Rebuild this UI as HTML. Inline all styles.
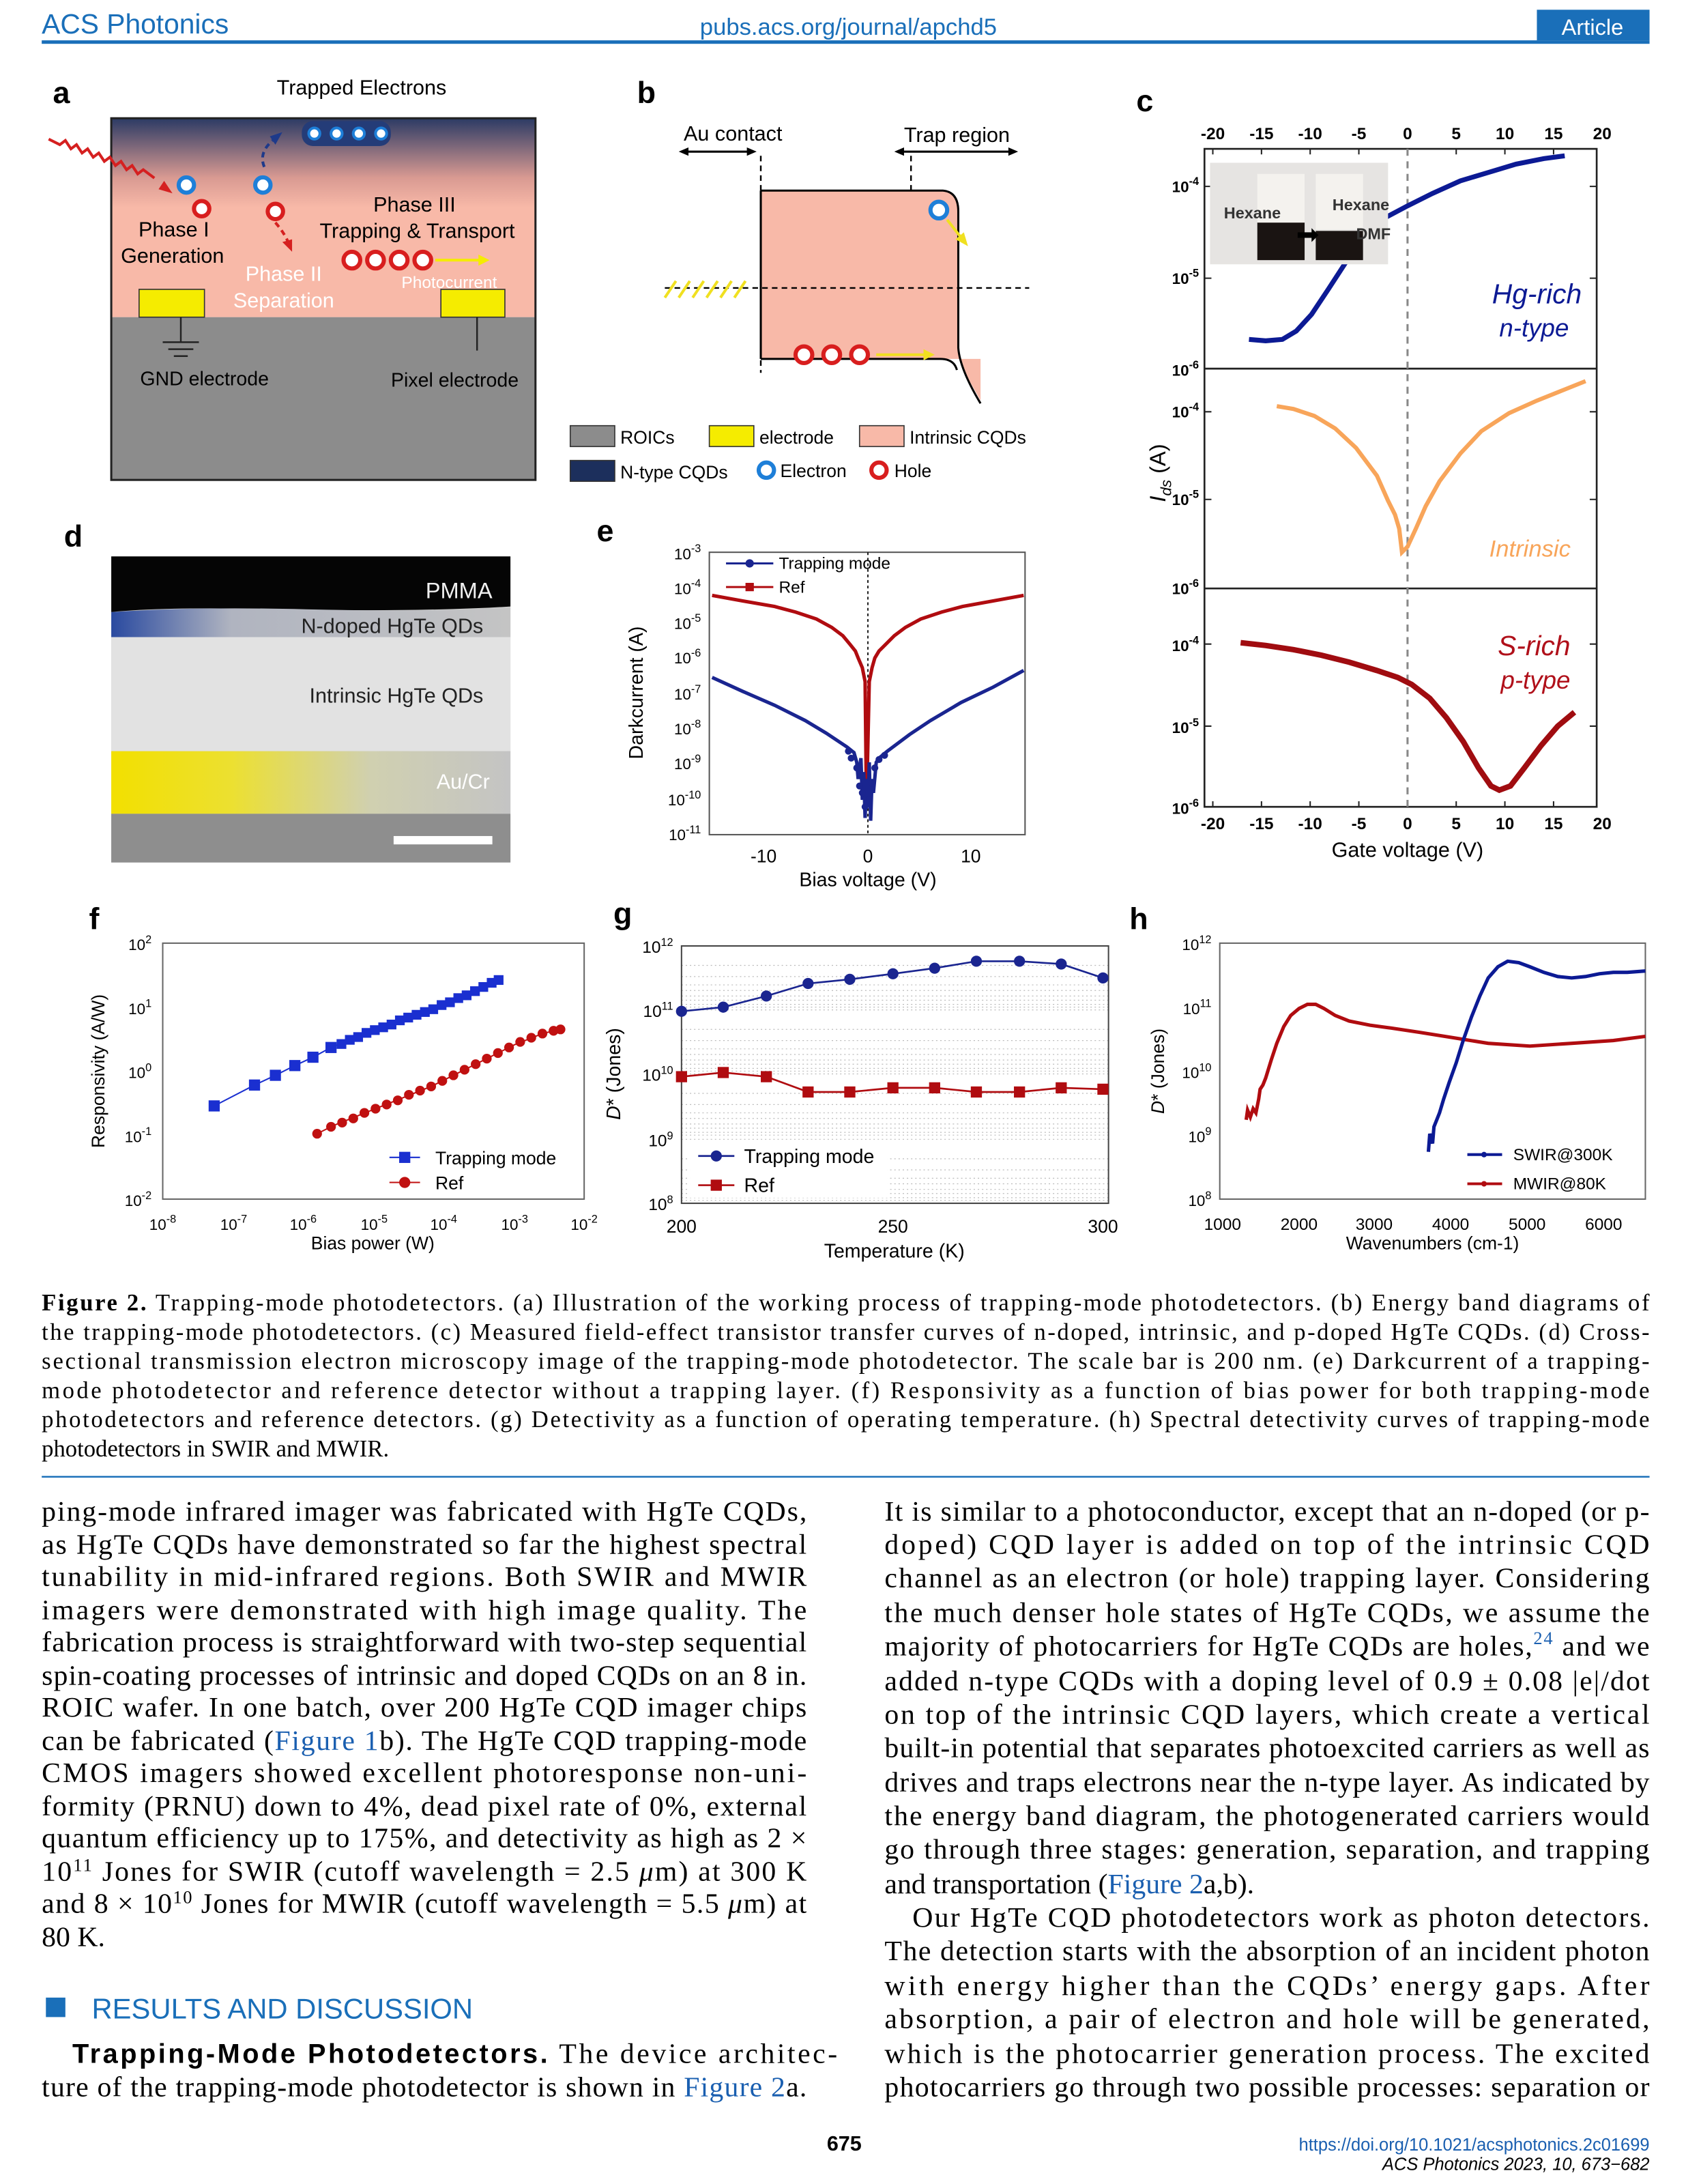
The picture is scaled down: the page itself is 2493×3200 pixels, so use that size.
<!DOCTYPE html>
<html><head><meta charset="utf-8"><style>
html,body{margin:0;padding:0;background:#fff;}
svg{display:block;}
.s{font-family:"Liberation Sans",Arial,sans-serif;}
.r{font-family:"Liberation Serif","DejaVu Serif",serif;}
</style></head><body>
<svg width="2493" height="3200" viewBox="0 0 1223 1570" preserveAspectRatio="none" xmlns="http://www.w3.org/2000/svg">
<defs>
<linearGradient id="ga" x1="0" y1="0" x2="0" y2="1">
<stop offset="0" stop-color="#2b3a64"/><stop offset="0.3" stop-color="#d99a92"/><stop offset="0.45" stop-color="#f8b9a8"/><stop offset="1" stop-color="#f8b9a8"/></linearGradient>
<linearGradient id="gy" x1="0" y1="0" x2="1" y2="0">
<stop offset="0" stop-color="#f2e000"/><stop offset="0.3" stop-color="#ece030"/><stop offset="0.65" stop-color="#d0d0b0"/><stop offset="1" stop-color="#c4c4c4"/></linearGradient>
<linearGradient id="gn" x1="0" y1="0" x2="1" y2="0">
<stop offset="0" stop-color="#2a4aa0"/><stop offset="0.3" stop-color="#b0b4c0"/><stop offset="1" stop-color="#c4c4c4"/></linearGradient>
</defs>
<rect width="1223" height="1570" fill="#fff"/>
<!-- header -->
<text x="30" y="24" class="s" font-size="20" fill="#1a6fb9">ACS Photonics</text>
<text x="610" y="25" class="s" font-size="17" fill="#1a6fb9" text-anchor="middle">pubs.acs.org/journal/apchd5</text>
<rect x="1105" y="7" width="81" height="22" fill="#1a6fb9"/>
<text x="1145" y="25" class="s" font-size="16" fill="#fff" text-anchor="middle">Article</text>
<rect x="30" y="29" width="1156" height="2.5" fill="#1a6fb9"/>

<g class="s">
<g font-weight="bold" font-size="22">
<text x="38" y="74">a</text><text x="458" y="74">b</text><text x="817" y="80">c</text>
<text x="46" y="393">d</text><text x="429" y="389">e</text><text x="64" y="668">f</text>
<text x="441" y="664">g</text><text x="812" y="668">h</text></g>

<!-- panel a -->
<rect x="80" y="85" width="305" height="143" fill="url(#ga)"/>
<rect x="80" y="228" width="305" height="117" fill="#8c8c8c"/>
<rect x="80" y="85" width="305" height="260" fill="none" stroke="#222" stroke-width="1.5"/>
<rect x="100" y="208" width="47" height="20" fill="#f5ec00" stroke="#333" stroke-width="0.8"/>
<rect x="317" y="208" width="46" height="20" fill="#f5ec00" stroke="#333" stroke-width="0.8"/>
<line x1="130" y1="228" x2="130" y2="246" stroke="#222" stroke-width="1.2"/>
<line x1="117" y1="246" x2="143" y2="246" stroke="#222" stroke-width="1.2"/>
<line x1="121" y1="251" x2="139" y2="251" stroke="#222" stroke-width="1.2"/>
<line x1="125" y1="256" x2="135" y2="256" stroke="#222" stroke-width="1.2"/>
<line x1="343" y1="228" x2="343" y2="252" stroke="#222" stroke-width="1.2"/>
<text x="260" y="68" font-size="15" text-anchor="middle">Trapped Electrons</text>
<rect x="217" y="87" width="64" height="18" rx="8" fill="#243c78"/>
<g fill="#fff" stroke="#1e7fd8" stroke-width="2"><circle cx="226" cy="96" r="4"/><circle cx="242" cy="96" r="4"/><circle cx="258" cy="96" r="4"/><circle cx="274" cy="96" r="4"/></g>
<path d="M35,100 l8,4 l4,-3 l4,6 l4,-3 l4,6 l4,-3 l4,6 l4,-3 l4,6 l4,-3 l4,6 l4,-3 l4,6 l4,-3 l4,6 l4,-3 l8,6" fill="none" stroke="#d52020" stroke-width="2"/>
<polygon points="124,139 114,136 118,130" fill="#d52020"/>
<path d="M190,120 Q185,108 200,98" fill="none" stroke="#1e3a8a" stroke-width="2" stroke-dasharray="4,3"/>
<polygon points="203,95 198,104 194,98" fill="#1e3a8a"/>
<path d="M198,160 Q205,168 208,176" fill="none" stroke="#d52020" stroke-width="2" stroke-dasharray="4,3"/>
<polygon points="210,181 203,174 210,172" fill="#d52020"/>
<g fill="#fff" stroke-width="3"><circle cx="134" cy="133" r="5.5" stroke="#1e7fd8"/><circle cx="145" cy="150" r="5.5" stroke="#d81e1e"/>
<circle cx="189" cy="133" r="5.5" stroke="#1e7fd8"/><circle cx="198" cy="152" r="5.5" stroke="#d81e1e"/>
<circle cx="253" cy="187" r="6" stroke="#d81e1e"/><circle cx="270" cy="187" r="6" stroke="#d81e1e"/><circle cx="287" cy="187" r="6" stroke="#d81e1e"/><circle cx="304" cy="187" r="6" stroke="#d81e1e"/></g>
<line x1="313" y1="187" x2="345" y2="187" stroke="#f5ec00" stroke-width="2"/><polygon points="352,187 344,183 344,191" fill="#f5ec00"/>
<text x="125" y="170" font-size="15" text-anchor="middle">Phase I</text>
<text x="124" y="189" font-size="15" text-anchor="middle">Generation</text>
<text x="298" y="152" font-size="15" text-anchor="middle">Phase III</text>
<text x="300" y="171" font-size="15" text-anchor="middle">Trapping &amp; Transport</text>
<text x="204" y="202" font-size="15" text-anchor="middle" fill="#fff">Phase II</text>
<text x="204" y="221" font-size="15" text-anchor="middle" fill="#fff">Separation</text>
<text x="323" y="207" font-size="12" text-anchor="middle" fill="#fff">Photocurrent</text>
<text x="147" y="277" font-size="14" text-anchor="middle">GND electrode</text>
<text x="327" y="278" font-size="14" text-anchor="middle">Pixel electrode</text>

<!-- panel b -->
<text x="527" y="101" font-size="15" text-anchor="middle">Au contact</text>
<text x="688" y="102" font-size="15" text-anchor="middle">Trap region</text>
<g stroke="#000" stroke-width="1.5"><line x1="492" y1="109" x2="540" y2="109"/><line x1="647" y1="109" x2="728" y2="109"/></g>
<g fill="#000"><polygon points="488,109 495,106 495,112"/><polygon points="544,109 537,106 537,112"/><polygon points="643,109 650,106 650,112"/><polygon points="732,109 725,106 725,112"/></g>
<path d="M547,137 H678 Q689,138 689,152 V250 Q689,262 696,272 L705,288 V258 H547 Z" fill="#f8b9a8"/>
<path d="M547,137 H678 Q689,138 689,152 V250 Q690,265 705,290" fill="none" stroke="#000" stroke-width="1.5"/>
<path d="M547,258 H676 Q686,258 688,266" fill="none" stroke="#000" stroke-width="1.5"/>
<line x1="547" y1="137" x2="547" y2="258" stroke="#000" stroke-width="1.5"/>
<g stroke="#000" stroke-width="1.2" stroke-dasharray="4,3" fill="none"><line x1="547" y1="112" x2="547" y2="268"/><line x1="655" y1="112" x2="655" y2="137"/><line x1="478" y1="207" x2="740" y2="207"/></g>
<g stroke="#f0e020" stroke-width="2"><line x1="478" y1="214" x2="486" y2="202"/><line x1="488" y1="214" x2="496" y2="202"/><line x1="498" y1="214" x2="506" y2="202"/><line x1="508" y1="214" x2="516" y2="202"/><line x1="518" y1="214" x2="526" y2="202"/><line x1="528" y1="214" x2="536" y2="202"/></g>
<circle cx="675" cy="151" r="6" fill="#fff" stroke="#1e7fd8" stroke-width="3"/>
<line x1="681" y1="158" x2="692" y2="172" stroke="#f0e020" stroke-width="2"/><polygon points="696,177 687,172 693,167" fill="#f0e020"/>
<g fill="#fff" stroke="#d81e1e" stroke-width="3"><circle cx="578" cy="255" r="6"/><circle cx="598" cy="255" r="6"/><circle cx="618" cy="255" r="6"/></g>
<line x1="630" y1="255" x2="664" y2="255" stroke="#f0e020" stroke-width="2"/><polygon points="672,255 664,251 664,259" fill="#f0e020"/>
<rect x="410" y="306" width="32" height="15" fill="#8c8c8c" stroke="#333" stroke-width="0.8"/><text x="446" y="319" font-size="13">ROICs</text>
<rect x="510" y="306" width="32" height="15" fill="#f5ec00" stroke="#333" stroke-width="0.8"/><text x="546" y="319" font-size="13">electrode</text>
<rect x="618" y="306" width="32" height="15" fill="#f8b9a8" stroke="#333" stroke-width="0.8"/><text x="654" y="319" font-size="13">Intrinsic CQDs</text>
<rect x="410" y="331" width="32" height="15" fill="#1c2f5c" stroke="#333" stroke-width="0.8"/><text x="446" y="344" font-size="13">N-type CQDs</text>
<circle cx="551" cy="338" r="5.5" fill="#fff" stroke="#1e7fd8" stroke-width="3"/><text x="561" y="343" font-size="13">Electron</text>
<circle cx="632" cy="338" r="5.5" fill="#fff" stroke="#d81e1e" stroke-width="3"/><text x="643" y="343" font-size="13">Hole</text>

<!-- panel c -->
<rect x="866" y="107" width="282" height="473" fill="none" stroke="#222" stroke-width="1.3"/>
<line x1="866" y1="265" x2="1148" y2="265" stroke="#222" stroke-width="1.3"/>
<line x1="866" y1="423" x2="1148" y2="423" stroke="#222" stroke-width="1.3"/>
<line x1="1012" y1="107" x2="1012" y2="580" stroke="#888" stroke-width="1.5" stroke-dasharray="5,4"/>
<g font-size="12" font-weight="bold" text-anchor="middle">
<text x="872" y="100">-20</text><text x="907" y="100">-15</text><text x="942" y="100">-10</text><text x="977" y="100">-5</text><text x="1012" y="100">0</text><text x="1047" y="100">5</text><text x="1082" y="100">10</text><text x="1117" y="100">15</text><text x="1152" y="100">20</text>
<text x="872" y="596">-20</text><text x="907" y="596">-15</text><text x="942" y="596">-10</text><text x="977" y="596">-5</text><text x="1012" y="596">0</text><text x="1047" y="596">5</text><text x="1082" y="596">10</text><text x="1117" y="596">15</text><text x="1152" y="596">20</text></g>
<g font-size="11" font-weight="bold" text-anchor="end">
<text x="862" y="138">10<tspan dy="-5" font-size="8">-4</tspan></text><text x="862" y="204">10<tspan dy="-5" font-size="8">-5</tspan></text><text x="862" y="270">10<tspan dy="-5" font-size="8">-6</tspan></text>
<text x="862" y="300">10<tspan dy="-5" font-size="8">-4</tspan></text><text x="862" y="363">10<tspan dy="-5" font-size="8">-5</tspan></text><text x="862" y="427">10<tspan dy="-5" font-size="8">-6</tspan></text>
<text x="862" y="468">10<tspan dy="-5" font-size="8">-4</tspan></text><text x="862" y="527">10<tspan dy="-5" font-size="8">-5</tspan></text><text x="862" y="585">10<tspan dy="-5" font-size="8">-6</tspan></text></g>
<g stroke="#222" stroke-width="1"><path d="M866,134h5M866,200h5M866,296h5M866,359h5M866,463h5M866,522h5M1148,134h-5M1148,200h-5M1148,296h-5M1148,359h-5M1148,463h-5M1148,522h-5"/>
<path d="M872,107v4M907,107v4M942,107v4M977,107v4M1047,107v4M1082,107v4M1117,107v4M872,580v-4M907,580v-4M942,580v-4M977,580v-4M1047,580v-4M1082,580v-4M1117,580v-4"/></g>
<text x="1012" y="616" font-size="15" text-anchor="middle">Gate voltage (V)</text>
<text transform="translate(838,340) rotate(-90)" font-size="16" text-anchor="middle"><tspan font-style="italic">I</tspan><tspan font-size="11" dy="4" font-style="italic">ds</tspan><tspan dy="-4"> (A)</tspan></text>
<polyline points="898,244 910,245 922,244 932,238 943,226 955,208 968,188 982,168 995,157 1012,148 1030,139 1050,130 1070,124 1090,118 1110,114 1125,112" fill="none" stroke="#0c1a94" stroke-width="3.5"/>
<rect x="870" y="117" width="128" height="73" fill="#e6e4e2"/>
<rect x="904" y="160" width="34" height="27" fill="#1a1412"/>
<rect x="946" y="166" width="34" height="21" fill="#1a1412"/>
<rect x="904" y="125" width="34" height="35" fill="#f4f2ee"/><rect x="946" y="125" width="34" height="40" fill="#f4f2ee"/>
<text x="880" y="157" font-size="11.5" font-weight="bold" fill="#333">Hexane</text>
<text x="958" y="151" font-size="11.5" font-weight="bold" fill="#333">Hexane</text>
<text x="975" y="172" font-size="11.5" font-weight="bold" fill="#333">DMF</text>
<polygon points="933,167 943,167 943,164 948,169 943,174 943,171 933,171" fill="#000"/>
<text x="1105" y="218" font-size="20" font-style="italic" fill="#0c1a94" text-anchor="middle">Hg-rich</text>
<text x="1103" y="242" font-size="18" font-style="italic" fill="#0c1a94" text-anchor="middle">n-type</text>
<polyline points="918,292 930,294 945,299 960,308 975,322 990,342 998,360 1003,370 1006,380 1008,397 1012,393 1018,380 1025,364 1035,346 1050,326 1065,310 1085,297 1105,288 1125,280 1140,274" fill="none" stroke="#f8a55a" stroke-width="3"/>
<text x="1100" y="400" font-size="17" font-style="italic" fill="#f8a55a" text-anchor="middle">Intrinsic</text>
<polyline points="892,462 910,464 930,467 950,471 970,476 990,482 1005,487 1015,492 1028,502 1040,516 1052,533 1063,552 1072,565 1078,568 1086,565 1096,552 1108,536 1120,522 1132,512" fill="none" stroke="#a00c10" stroke-width="4"/>
<text x="1103" y="471" font-size="20" font-style="italic" fill="#b0101a" text-anchor="middle">S-rich</text>
<text x="1104" y="495" font-size="18" font-style="italic" fill="#b0101a" text-anchor="middle">p-type</text>

<!-- panel d -->
<rect x="80" y="400" width="287" height="220" fill="#c9c9c9"/>
<path d="M80,400 H367 V436 Q300,440 200,438 Q120,436 80,440 Z" fill="#050505"/>
<path d="M80,440 Q140,436 220,438 Q300,440 367,437 V458 H80 Z" fill="url(#gn)"/>
<rect x="80" y="458" width="287" height="82" fill="#e2e2e2"/>
<rect x="80" y="540" width="287" height="45" fill="url(#gy)"/>
<rect x="80" y="585" width="287" height="35" fill="#8e8e8e"/>
<text x="330" y="430" font-size="16" fill="#f0f0f0" text-anchor="middle">PMMA</text>
<text x="282" y="455" font-size="15" fill="#222" text-anchor="middle">N-doped HgTe QDs</text>
<text x="285" y="505" font-size="15" fill="#222" text-anchor="middle">Intrinsic HgTe QDs</text>
<text x="333" y="567" font-size="15" fill="#fff" text-anchor="middle">Au/Cr</text>
<rect x="283" y="601" width="71" height="6" fill="#fff"/>

<!-- panel e -->
<rect x="510" y="397" width="227" height="203" fill="none" stroke="#555" stroke-width="1"/>
<line x1="624" y1="397" x2="624" y2="600" stroke="#222" stroke-width="1" stroke-dasharray="2,2"/>
<g font-size="11" text-anchor="end">
<text x="504" y="402">10<tspan dy="-5" font-size="8">-3</tspan></text><text x="504" y="427">10<tspan dy="-5" font-size="8">-4</tspan></text><text x="504" y="452">10<tspan dy="-5" font-size="8">-5</tspan></text><text x="504" y="477">10<tspan dy="-5" font-size="8">-6</tspan></text><text x="504" y="503">10<tspan dy="-5" font-size="8">-7</tspan></text><text x="504" y="528">10<tspan dy="-5" font-size="8">-8</tspan></text><text x="504" y="553">10<tspan dy="-5" font-size="8">-9</tspan></text><text x="504" y="579">10<tspan dy="-5" font-size="8">-10</tspan></text><text x="504" y="604">10<tspan dy="-5" font-size="8">-11</tspan></text></g>
<g font-size="13" text-anchor="middle"><text x="549" y="620">-10</text><text x="624" y="620">0</text><text x="698" y="620">10</text></g>
<text x="624" y="637" font-size="14" text-anchor="middle">Bias voltage (V)</text>
<text transform="translate(462,498) rotate(-90)" font-size="14" text-anchor="middle">Darkcurrent (A)</text>
<polyline points="512,428 534,432 557,436 572,440 587,445 598,451 606,457 611,463 615,468 617,473 620,480 622,490 623,580 625,490 627,480 629,473 632,468 637,463 643,457 651,451 662,445 677,440 692,436 714,432 736,428" fill="none" stroke="#b00c10" stroke-width="2.5"/>
<polyline points="512,487 534,497 557,507 579,518 594,527 609,537 614,541 616,548 617,560 619,545 620,575 621,555 622,588 623,560 624,580 625,548 626,590 627,560 628,570 630,548 632,545 638,540 654,528 669,518 691,505 714,494 736,482" fill="none" stroke="#1a2590" stroke-width="2.5"/>
<g fill="#1a2590"><circle cx="612" cy="545" r="2.5"/><circle cx="616" cy="552" r="2.5"/><circle cx="618" cy="565" r="2.5"/><circle cx="620" cy="570" r="2.5"/><circle cx="622" cy="580" r="2.5"/><circle cx="625" cy="575" r="2.5"/><circle cx="627" cy="563" r="2.5"/><circle cx="629" cy="552" r="2.5"/><circle cx="632" cy="546" r="2.5"/><circle cx="610" cy="540" r="2.5"/><circle cx="636" cy="543" r="2.5"/></g>
<line x1="522" y1="405" x2="556" y2="405" stroke="#1a2590" stroke-width="1.5"/><circle cx="539" cy="405" r="3" fill="#1a2590"/>
<text x="560" y="409" font-size="12">Trapping mode</text>
<line x1="522" y1="422" x2="556" y2="422" stroke="#b00c10" stroke-width="1.5"/><rect x="536" y="419" width="6" height="6" fill="#b00c10"/>
<text x="560" y="426" font-size="12">Ref</text>

<!-- panel f -->
<rect x="117" y="678" width="303" height="184" fill="none" stroke="#666" stroke-width="1"/>
<g font-size="11" text-anchor="end">
<text x="109" y="683">10<tspan dy="-5" font-size="8">2</tspan></text><text x="109" y="729">10<tspan dy="-5" font-size="8">1</tspan></text><text x="109" y="775">10<tspan dy="-5" font-size="8">0</tspan></text><text x="109" y="821">10<tspan dy="-5" font-size="8">-1</tspan></text><text x="109" y="867">10<tspan dy="-5" font-size="8">-2</tspan></text></g>
<g font-size="11" text-anchor="middle">
<text x="117" y="884">10<tspan dy="-5" font-size="8">-8</tspan></text><text x="168" y="884">10<tspan dy="-5" font-size="8">-7</tspan></text><text x="218" y="884">10<tspan dy="-5" font-size="8">-6</tspan></text><text x="269" y="884">10<tspan dy="-5" font-size="8">-5</tspan></text><text x="319" y="884">10<tspan dy="-5" font-size="8">-4</tspan></text><text x="370" y="884">10<tspan dy="-5" font-size="8">-3</tspan></text><text x="420" y="884">10<tspan dy="-5" font-size="8">-2</tspan></text></g>
<text x="268" y="898" font-size="13" text-anchor="middle">Bias power (W)</text>
<text transform="translate(75,770) rotate(-90)" font-size="13" text-anchor="middle">Responsivity (A/W)</text>
<polyline points="154,795 183,780 198,773 212,766 225,760 238,753 250,748 270,740 290,733 310,726 330,718 345,712 360,705" fill="none" stroke="#1a2fd0" stroke-width="1"/>
<g fill="#1a2fd0">
<rect x="150" y="791" width="8" height="8"/><rect x="179" y="776" width="8" height="8"/><rect x="194" y="769" width="8" height="8"/><rect x="208" y="762" width="8" height="8"/><rect x="221" y="756" width="8" height="8"/><rect x="234" y="749" width="8" height="8"/><rect x="242" y="747" width="7" height="7"/><rect x="248" y="744" width="7" height="7"/><rect x="254" y="742" width="7" height="7"/><rect x="260" y="739" width="7" height="7"/><rect x="266" y="737" width="7" height="7"/><rect x="272" y="735" width="7" height="7"/><rect x="278" y="733" width="7" height="7"/><rect x="284" y="730" width="7" height="7"/><rect x="290" y="728" width="7" height="7"/><rect x="296" y="726" width="7" height="7"/><rect x="302" y="724" width="7" height="7"/><rect x="308" y="722" width="7" height="7"/><rect x="314" y="719" width="7" height="7"/><rect x="320" y="717" width="7" height="7"/><rect x="326" y="714" width="7" height="7"/><rect x="332" y="712" width="7" height="7"/><rect x="338" y="709" width="7" height="7"/><rect x="344" y="706" width="7" height="7"/><rect x="350" y="703" width="7" height="7"/><rect x="355" y="701" width="7" height="7"/></g>
<polyline points="228,815 240,809 250,805 260,801 270,797 280,793 290,789 300,785 310,781 320,776 330,771 340,766 350,761 360,756 370,751 380,747 390,743 403,740" fill="none" stroke="#c01010" stroke-width="1"/>
<g fill="#c01010">
<circle cx="228" cy="815" r="3.5"/><circle cx="238" cy="810" r="3.5"/><circle cx="246" cy="807" r="3.5"/><circle cx="254" cy="804" r="3.5"/><circle cx="262" cy="800" r="3.5"/><circle cx="270" cy="797" r="3.5"/><circle cx="278" cy="794" r="3.5"/><circle cx="286" cy="791" r="3.5"/><circle cx="294" cy="787" r="3.5"/><circle cx="302" cy="784" r="3.5"/><circle cx="310" cy="781" r="3.5"/><circle cx="318" cy="777" r="3.5"/><circle cx="326" cy="773" r="3.5"/><circle cx="334" cy="769" r="3.5"/><circle cx="342" cy="765" r="3.5"/><circle cx="350" cy="761" r="3.5"/><circle cx="358" cy="757" r="3.5"/><circle cx="366" cy="753" r="3.5"/><circle cx="374" cy="749" r="3.5"/><circle cx="382" cy="746" r="3.5"/><circle cx="390" cy="743" r="3.5"/><circle cx="398" cy="741" r="3.5"/><circle cx="403" cy="740" r="3.5"/></g>
<line x1="280" y1="832" x2="302" y2="832" stroke="#1a2fd0"/><rect x="287" y="828" width="8" height="8" fill="#1a2fd0"/><text x="313" y="837" font-size="13">Trapping mode</text>
<line x1="280" y1="850" x2="302" y2="850" stroke="#c01010"/><circle cx="291" cy="850" r="4" fill="#c01010"/><text x="313" y="855" font-size="13">Ref</text>

<!-- panel g -->
<g stroke="#bbb" stroke-width="0.6" stroke-dasharray="1,2">
<path d="M490,694h307M490,702h307M490,708h307M490,712h307M490,716h307M490,719h307M490,722h307M490,724h307M490,740h307M490,748h307M490,754h307M490,758h307M490,762h307M490,765h307M490,768h307M490,770h307M490,786h307M490,794h307M490,800h307M490,804h307M490,808h307M490,811h307M490,814h307M490,816h307M490,833h307M490,841h307M490,847h307M490,851h307M490,855h307M490,858h307M490,861h307M490,863h307M490,726h307M490,772h307M490,819h307"/></g>
<rect x="490" y="680" width="307" height="185" fill="none" stroke="#444" stroke-width="1"/>
<g font-size="12" text-anchor="end">
<text x="484" y="685">10<tspan dy="-5" font-size="8">12</tspan></text><text x="484" y="731">10<tspan dy="-5" font-size="8">11</tspan></text><text x="484" y="777">10<tspan dy="-5" font-size="8">10</tspan></text><text x="484" y="824">10<tspan dy="-5" font-size="8">9</tspan></text><text x="484" y="870">10<tspan dy="-5" font-size="8">8</tspan></text></g>
<g font-size="13" text-anchor="middle"><text x="490" y="886">200</text><text x="642" y="886">250</text><text x="793" y="886">300</text></g>
<text x="643" y="904" font-size="14" text-anchor="middle">Temperature (K)</text>
<text transform="translate(446,772) rotate(-90)" font-size="14" text-anchor="middle"><tspan font-style="italic">D</tspan>* (Jones)</text>
<polyline points="490,727 520,724 551,716 581,707 611,704 642,700 672,696 702,691 733,691 763,693 793,703" fill="none" stroke="#1a2590" stroke-width="1.3"/>
<g fill="#1a2590"><circle cx="490" cy="727" r="4"/><circle cx="520" cy="724" r="4"/><circle cx="551" cy="716" r="4"/><circle cx="581" cy="707" r="4"/><circle cx="611" cy="704" r="4"/><circle cx="642" cy="700" r="4"/><circle cx="672" cy="696" r="4"/><circle cx="702" cy="691" r="4"/><circle cx="733" cy="691" r="4"/><circle cx="763" cy="693" r="4"/><circle cx="793" cy="703" r="4"/></g>
<polyline points="490,774 520,771 551,774 581,785 611,785 642,782 672,782 702,785 733,785 763,782 793,783" fill="none" stroke="#b00c10" stroke-width="1.3"/>
<g fill="#b00c10"><rect x="486" y="770" width="8" height="8"/><rect x="516" y="767" width="8" height="8"/><rect x="547" y="770" width="8" height="8"/><rect x="577" y="781" width="8" height="8"/><rect x="607" y="781" width="8" height="8"/><rect x="638" y="778" width="8" height="8"/><rect x="668" y="778" width="8" height="8"/><rect x="698" y="781" width="8" height="8"/><rect x="729" y="781" width="8" height="8"/><rect x="759" y="778" width="8" height="8"/><rect x="789" y="779" width="8" height="8"/></g>
<rect x="496" y="821" width="142" height="40" fill="#fff"/>
<line x1="502" y1="831" x2="528" y2="831" stroke="#1a2590" stroke-width="1.3"/><circle cx="515" cy="831" r="4" fill="#1a2590"/><text x="535" y="836" font-size="14">Trapping mode</text>
<line x1="502" y1="852" x2="528" y2="852" stroke="#b00c10" stroke-width="1.3"/><rect x="511" y="848" width="8" height="8" fill="#b00c10"/><text x="535" y="857" font-size="14">Ref</text>

<!-- panel h -->
<rect x="877" y="678" width="306" height="184" fill="none" stroke="#666" stroke-width="1"/>
<g font-size="11" text-anchor="end">
<text x="871" y="683">10<tspan dy="-5" font-size="8">12</tspan></text><text x="871" y="729">10<tspan dy="-5" font-size="8">11</tspan></text><text x="871" y="775">10<tspan dy="-5" font-size="8">10</tspan></text><text x="871" y="821">10<tspan dy="-5" font-size="8">9</tspan></text><text x="871" y="867">10<tspan dy="-5" font-size="8">8</tspan></text></g>
<g font-size="12" text-anchor="middle"><text x="879" y="884">1000</text><text x="934" y="884">2000</text><text x="988" y="884">3000</text><text x="1043" y="884">4000</text><text x="1098" y="884">5000</text><text x="1153" y="884">6000</text></g>
<text x="1030" y="898" font-size="13" text-anchor="middle">Wavenumbers (cm-1)</text>
<text transform="translate(837,770) rotate(-90)" font-size="13" text-anchor="middle"><tspan font-style="italic">D</tspan>* (Jones)</text>
<polyline points="896,805 897,798 899,803 901,797 903,800 905,790 906,783 908,780 910,775 914,762 918,750 923,738 928,730 934,725 940,722 946,722 952,725 960,730 970,734 985,737 1000,739 1020,742 1045,746 1070,750 1100,752 1130,750 1160,748 1183,745" fill="none" stroke="#b00c10" stroke-width="2.5"/>
<polyline points="1027,828 1028,815 1030,822 1031,810 1033,805 1035,800 1038,790 1042,778 1047,764 1052,748 1058,731 1064,716 1070,703 1077,695 1084,691 1092,692 1100,695 1110,699 1120,702 1130,703 1140,702 1150,700 1160,699 1170,699 1183,698" fill="none" stroke="#0c1a94" stroke-width="2.5"/>
<line x1="1055" y1="830" x2="1080" y2="830" stroke="#0c1a94" stroke-width="2"/><circle cx="1067" cy="830" r="2" fill="#0c1a94"/><text x="1088" y="834" font-size="12">SWIR@300K</text>
<line x1="1055" y1="851" x2="1080" y2="851" stroke="#b00c10" stroke-width="2"/><circle cx="1067" cy="851" r="2" fill="#b00c10"/><text x="1088" y="855" font-size="12">MWIR@80K</text>
</g>

<!-- caption -->
<g class="r" font-size="17">
<text x="30" y="942" textLength="1156" lengthAdjust="spacing"><tspan font-weight="bold">Figure 2.</tspan> Trapping-mode photodetectors. (a) Illustration of the working process of trapping-mode photodetectors. (b) Energy band diagrams of</text>
<text x="30" y="963" textLength="1156" lengthAdjust="spacing">the trapping-mode photodetectors. (c) Measured field-effect transistor transfer curves of n-doped, intrinsic, and p-doped HgTe CQDs. (d) Cross-</text>
<text x="30" y="984" textLength="1156" lengthAdjust="spacing">sectional transmission electron microscopy image of the trapping-mode photodetector. The scale bar is 200 nm. (e) Darkcurrent of a trapping-</text>
<text x="30" y="1005" textLength="1156" lengthAdjust="spacing">mode photodetector and reference detector without a trapping layer. (f) Responsivity as a function of bias power for both trapping-mode</text>
<text x="30" y="1026" textLength="1156" lengthAdjust="spacing">photodetectors and reference detectors. (g) Detectivity as a function of operating temperature. (h) Spectral detectivity curves of trapping-mode</text>
<text x="30" y="1047">photodetectors in SWIR and MWIR.</text>
</g>
<rect x="30" y="1061" width="1156" height="1.2" fill="#1a6fb9"/>

<!-- body -->
<g class="r" font-size="20.5">
<text x="30" y="1093" textLength="550" lengthAdjust="spacing">ping-mode infrared imager was fabricated with HgTe CQDs,</text>
<text x="30" y="1117" textLength="550" lengthAdjust="spacing">as HgTe CQDs have demonstrated so far the highest spectral</text>
<text x="30" y="1140" textLength="550" lengthAdjust="spacing">tunability in mid-infrared regions. Both SWIR and MWIR</text>
<text x="30" y="1164" textLength="550" lengthAdjust="spacing">imagers were demonstrated with high image quality. The</text>
<text x="30" y="1187" textLength="550" lengthAdjust="spacing">fabrication process is straightforward with two-step sequential</text>
<text x="30" y="1211" textLength="550" lengthAdjust="spacing">spin-coating processes of intrinsic and doped CQDs on an 8 in.</text>
<text x="30" y="1234" textLength="550" lengthAdjust="spacing">ROIC wafer. In one batch, over 200 HgTe CQD imager chips</text>
<text x="30" y="1258" textLength="550" lengthAdjust="spacing">can be fabricated (<tspan fill="#1a5fb0">Figure 1</tspan>b). The HgTe CQD trapping-mode</text>
<text x="30" y="1281" textLength="550" lengthAdjust="spacing">CMOS imagers showed excellent photoresponse non-uni-</text>
<text x="30" y="1305" textLength="550" lengthAdjust="spacing">formity (PRNU) down to 4%, dead pixel rate of 0%, external</text>
<text x="30" y="1328" textLength="550" lengthAdjust="spacing">quantum efficiency up to 175%, and detectivity as high as 2 ×</text>
<text x="30" y="1352" textLength="550" lengthAdjust="spacing">10<tspan dy="-7" font-size="13">11</tspan><tspan dy="7"> Jones for SWIR (cutoff wavelength = 2.5 <tspan font-style="italic">μ</tspan>m) at 300 K</tspan></text>
<text x="30" y="1375" textLength="550" lengthAdjust="spacing">and 8 × 10<tspan dy="-7" font-size="13">10</tspan><tspan dy="7"> Jones for MWIR (cutoff wavelength = 5.5 <tspan font-style="italic">μ</tspan>m) at</tspan></text>
<text x="30" y="1399">80 K.</text>
<rect x="33" y="1436" width="14" height="14" fill="#1a6fb9"/>
<text x="66" y="1451" class="s" font-size="20.5" fill="#1a6fb9">RESULTS AND DISCUSSION</text>
<text x="30" y="1483" textLength="550" lengthAdjust="spacing"><tspan class="s" font-weight="bold" font-size="19.5" dx="22">Trapping-Mode Photodetectors.</tspan> The device architec-</text>
<text x="30" y="1507" textLength="550" lengthAdjust="spacing">ture of the trapping-mode photodetector is shown in <tspan fill="#1a5fb0">Figure 2</tspan>a.</text>

<text x="636" y="1093" textLength="550" lengthAdjust="spacing">It is similar to a photoconductor, except that an n-doped (or p-</text>
<text x="636" y="1117" textLength="550" lengthAdjust="spacing">doped) CQD layer is added on top of the intrinsic CQD</text>
<text x="636" y="1141" textLength="550" lengthAdjust="spacing">channel as an electron (or hole) trapping layer. Considering</text>
<text x="636" y="1166" textLength="550" lengthAdjust="spacing">the much denser hole states of HgTe CQDs, we assume the</text>
<text x="636" y="1190" textLength="550" lengthAdjust="spacing">majority of photocarriers for HgTe CQDs are holes,<tspan dy="-8" font-size="13" fill="#1a5fb0">24</tspan><tspan dy="8"> and we</tspan></text>
<text x="636" y="1215" textLength="550" lengthAdjust="spacing">added n-type CQDs with a doping level of 0.9 ± 0.08 |e|/dot</text>
<text x="636" y="1239" textLength="550" lengthAdjust="spacing">on top of the intrinsic CQD layers, which create a vertical</text>
<text x="636" y="1263" textLength="550" lengthAdjust="spacing">built-in potential that separates photoexcited carriers as well as</text>
<text x="636" y="1288" textLength="550" lengthAdjust="spacing">drives and traps electrons near the n-type layer. As indicated by</text>
<text x="636" y="1312" textLength="550" lengthAdjust="spacing">the energy band diagram, the photogenerated carriers would</text>
<text x="636" y="1336" textLength="550" lengthAdjust="spacing">go through three stages: generation, separation, and trapping</text>
<text x="636" y="1361">and transportation (<tspan fill="#1a5fb0">Figure 2</tspan>a,b).</text>
<text x="656" y="1385" textLength="530" lengthAdjust="spacing">Our HgTe CQD photodetectors work as photon detectors.</text>
<text x="636" y="1409" textLength="550" lengthAdjust="spacing">The detection starts with the absorption of an incident photon</text>
<text x="636" y="1434" textLength="550" lengthAdjust="spacing">with energy higher than the CQDs’ energy gaps. After</text>
<text x="636" y="1458" textLength="550" lengthAdjust="spacing">absorption, a pair of electron and hole will be generated,</text>
<text x="636" y="1483" textLength="550" lengthAdjust="spacing">which is the photocarrier generation process. The excited</text>
<text x="636" y="1507" textLength="550" lengthAdjust="spacing">photocarriers go through two possible processes: separation or</text>
</g>
<text x="607" y="1546" class="s" font-size="15" font-weight="bold" text-anchor="middle">675</text>
<text x="1186" y="1546" class="s" font-size="12.5" fill="#1a5fb0" text-anchor="end">https://doi.org/10.1021/acsphotonics.2c01699</text>
<text x="1186" y="1560" class="s" font-size="12.5" font-style="italic" text-anchor="end">ACS Photonics 2023, 10, 673−682</text>
</svg>
</body></html>
